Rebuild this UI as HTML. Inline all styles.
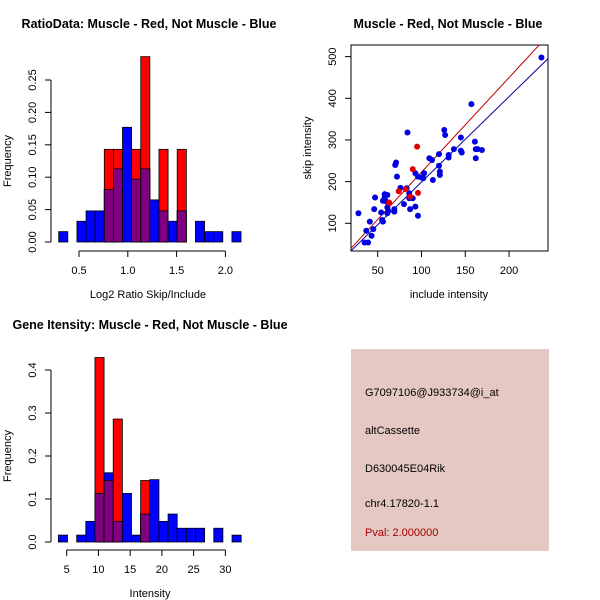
<!DOCTYPE html>
<html><head><meta charset="utf-8"><style>
body{margin:0;background:#fff;}
svg{display:block;font-family:"Liberation Sans",sans-serif;}
</style></head><body>
<svg id="c" width="600" height="600" xmlns="http://www.w3.org/2000/svg">
<rect x="0" y="0" width="600" height="600" fill="#fff"/>
<text x="149" y="28" font-size="12.5" font-weight="bold" text-anchor="middle">RatioData: Muscle - Red, Not Muscle - Blue</text>
<text x="448" y="28" font-size="12.5" font-weight="bold" text-anchor="middle">Muscle - Red, Not Muscle - Blue</text>
<text x="150" y="329" font-size="12.5" font-weight="bold" text-anchor="middle">Gene Itensity: Muscle - Red, Not Muscle - Blue</text>
<g id="h1"></g>
<g id="h2"></g>
<g id="sc"></g>
<g>
<rect x="351" y="349" width="198" height="202" fill="#e6c8c2"/>
<text x="365" y="396" font-size="11">G7097106@J933734@i_at</text>
<text x="365" y="434" font-size="11">altCassette</text>
<text x="365" y="472" font-size="11">D630045E04Rik</text>
<text x="365" y="507" font-size="11">chr4.17820-1.1</text>
<text x="365" y="536" font-size="11" fill="#a00000">Pval: 2.000000</text>
</g>
</svg>
<script>
const ratioBinStart = 0.292, ratioBinWidth = 0.0934;
const ratioBlue = [0.016,0,0.032,0.048,0.048,0.081,0.113,0.177,0.097,0.113,0.065,0.048,0.032,0.048,0,0.032,0.016,0.016,0,0.016];
const ratioRed  = [0,0,0,0,0,0.143,0.143,0,0.143,0.286,0,0.143,0,0.143,0,0,0,0,0,0];
const ratioXTicks = [0.5,1.0,1.5,2.0];
const ratioXLabels = ["0.5","1.0","1.5","2.0"];
const ratioYTicks = [0,0.05,0.10,0.15,0.20,0.25];
const ratioYLabels = ["0.00","0.05","0.10","0.15","0.20","0.25"];

const intBinStart = 3.69, intBinWidth = 1.44;
const intBlue = [0.016,0,0.016,0.048,0.113,0.161,0.048,0.113,0.016,0.065,0.145,0.048,0.065,0.032,0.032,0.032,0,0.032,0,0.016];
const intRed  = [0,0,0,0,0.429,0.143,0.286,0,0,0.143,0,0,0,0,0,0,0,0,0,0];
const intXTicks = [5,10,15,20,25,30];
const intXLabels = ["5","10","15","20","25","30"];
const intYTicks = [0,0.1,0.2,0.3,0.4];
const intYLabels = ["0.0","0.1","0.2","0.3","0.4"];

const blueX = [28,35,39,37,43,41,45,46,47,54,55,56,56,58,58,61,60,61,62,61,69,69,70,71,72,76,80,84,83,86,87,86,90,93,93,96,96,102,103,109,112,113,120,120,121,121,126,127,131,131,137,145,145,146,157,161,162,162,164,169,237,100];
const blueY = [124,54,54,82,70,104,86,134,162,126,108,104,154,162,170,168,152,138,130,124,134,128,240,246,212,185,146,318,184,160,134,172,160,140,220,118,212,208,220,256,252,204,266,238,216,224,324,312,258,264,278,306,274,270,386,296,278,256,278,276,498,210];
const redX = [95,90,96,74,82,63,87];
const redY = [284,230,173,177,182,150,164];
const redLine = [-4.3,2.27];
const blueLine = [-6,2.05];
const scXTicks = [50,100,150,200];
const scYTicks = [100,200,300,400,500];

const NS="http://www.w3.org/2000/svg";
function mk(tag,attrs,parent){const e=document.createElementNS(NS,tag);for(const k in attrs)e.setAttribute(k,attrs[k]);parent.appendChild(e);return e;}

function hist(g,o){
  const sx=v=>o.x0px+(v-o.x0v)*o.kx, sy=v=>o.y0px-v*o.ky;
  const n=o.blue.length;
  for(let i=0;i<n;i++){
    const a=sx(o.bs+i*o.bw), b=sx(o.bs+(i+1)*o.bw);
    const vals=[[o.blue[i],"#0000ff"],[o.red[i],"#ff0000"],[Math.min(o.blue[i],o.red[i]),"#800080"]];
    vals.forEach((p,j)=>{ if(p[0]>0){
      const r=mk("rect",{x:a,y:sy(p[0]),width:b-a,height:sy(0)-sy(p[0]),fill:p[1],stroke:"#000","stroke-width":0.8},g);
      
      
    }});
  }
  const yl=mk("line",{x1:o.axX,x2:o.axX,y1:sy(o.yt[0]),y2:sy(o.yt[o.yt.length-1]),stroke:"#000"},g);
  
  
  o.yt.forEach((v,i)=>{
    mk("line",{x1:o.axX-6,x2:o.axX,y1:sy(v),y2:sy(v),stroke:"#000"},g);
    const t=mk("text",{x:o.axX-15,y:sy(v),"font-size":11,"text-anchor":"middle",transform:`rotate(-90 ${o.axX-15} ${sy(v)})`},g);
    t.textContent=o.yl[i];
    
    
  });
  const xl=mk("line",{x1:sx(o.xt[0]),x2:sx(o.xt[o.xt.length-1]),y1:o.axY,y2:o.axY,stroke:"#000"},g);
  
  
  o.xt.forEach((v,i)=>{
    mk("line",{x1:sx(v),x2:sx(v),y1:o.axY,y2:o.axY+6,stroke:"#000"},g);
    const t=mk("text",{x:sx(v),y:o.axY+23,"font-size":11,"text-anchor":"middle"},g);
    t.textContent=o.xl[i];
    
    
  });
  const xt=mk("text",{x:o.xtX,y:o.axY+47,"font-size":11,"text-anchor":"middle"},g);
  xt.textContent=o.xtitle;
  
  
  const cy=(sy(0)+sy(o.yt[o.yt.length-1]))/2;
  const yt=mk("text",{x:11,y:cy,"font-size":11,"text-anchor":"middle",transform:`rotate(-90 11 ${cy})`},g);
  yt.textContent="Frequency";
  
  
}
hist(document.getElementById("h1"),{x0px:79,x0v:0.5,kx:97.6,y0px:242,ky:648,bs:ratioBinStart,bw:ratioBinWidth,blue:ratioBlue,red:ratioRed,xt:ratioXTicks,xl:ratioXLabels,yt:ratioYTicks,yl:ratioYLabels,axX:51,axY:251,xtitle:"Log2 Ratio Skip/Include",xtX:148});
hist(document.getElementById("h2"),{x0px:66.7,x0v:5,kx:6.347,y0px:542,ky:430,bs:intBinStart,bw:intBinWidth,blue:intBlue,red:intRed,xt:intXTicks,xl:intXLabels,yt:intYTicks,yl:intYLabels,axX:51,axY:550,xtitle:"Intensity",xtX:150});

(function(){
  const g=document.getElementById("sc");
  const L=351,R=548,T=45,B=251;
  const sx=v=>377.7+(v-50)*0.8757, sy=v=>223.3-(v-100)*0.4167;
  const f=mk("rect",{x:L,y:T,width:R-L,height:B-T,fill:"none",stroke:"#000"},g);
  
  
  const cp=mk("clipPath",{id:"scclip"},g); mk("rect",{x:L,y:T,width:R-L,height:B-T},cp);
  const lines=[[blueLine,"#0000a0","blue-fit-line"],[redLine,"#c00000","red-fit-line"]];
  const xa=(L-377.7)/0.8757+50, xb=(R-377.7)/0.8757+50;
  lines.forEach(l=>{
    const e=mk("line",{x1:sx(xa),y1:sy(l[0][0]+l[0][1]*xa),x2:sx(xb),y2:sy(l[0][0]+l[0][1]*xb),stroke:l[1],"clip-path":"url(#scclip)"},g);
    
    
  });
  blueX.forEach((v,i)=>{
    const c=mk("circle",{cx:sx(v),cy:sy(blueY[i]),r:3,fill:"#0000e0"},g);
    
    
  });
  redX.forEach((v,i)=>{
    const c=mk("circle",{cx:sx(v),cy:sy(redY[i]),r:3,fill:"#e00000"},g);
    
    
  });
  scXTicks.forEach(v=>{
    mk("line",{x1:sx(v),x2:sx(v),y1:B,y2:B+6,stroke:"#000"},g);
    const t=mk("text",{x:sx(v),y:B+23,"font-size":11,"text-anchor":"middle"},g);
    t.textContent=String(v);
    
    
  });
  scYTicks.forEach(v=>{
    mk("line",{x1:L-6,x2:L,y1:sy(v),y2:sy(v),stroke:"#000"},g);
    const t=mk("text",{x:L-15,y:sy(v),"font-size":11,"text-anchor":"middle",transform:`rotate(-90 ${L-15} ${sy(v)})`},g);
    t.textContent=String(v);
    
    
  });
  const xt=mk("text",{x:449,y:298,"font-size":11,"text-anchor":"middle"},g);
  xt.textContent="include intensity";
  
  
  const yt=mk("text",{x:311,y:148,"font-size":11,"text-anchor":"middle",transform:"rotate(-90 311 148)"},g);
  yt.textContent="skip intensity";
  
  
})();
</script>
</body></html>
